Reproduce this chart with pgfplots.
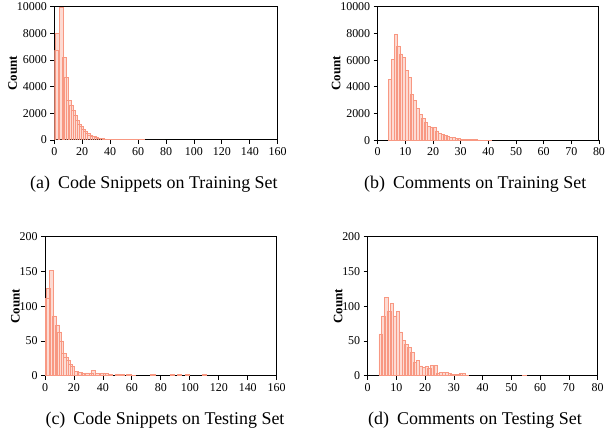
\documentclass[border=0pt]{standalone}
\usepackage{fontspec}
\setmainfont{Liberation Serif}
\usepackage{pgfplots}
\pgfplotsset{compat=1.18}
\definecolor{histc}{RGB}{248,152,130}

\pgfplotsset{
  hist/.style={
    scale only axis,
    anchor=south west,
    axis line style={line width=1bp},
    tick align=outside,
    tick pos=left,
    major tick length=4bp,
    every tick/.style={black, line width=0.8bp},
    ymin=0,
    scaled ticks=false,
    /pgf/number format/1000 sep={},
    /pgf/number format/assume math mode=true,
    tick label style={font=\fontsize{12}{14}\selectfont},
    ylabel={Count},
    ylabel shift=-7bp,
    ylabel style={font=\fontsize{13}{15}\selectfont\bfseries},
  },
  bars/.style={ybar, bar shift=0pt, draw=histc, fill=histc,
    fill opacity=0.35, line width=0.8bp},
}

\begin{document}
\begin{tikzpicture}

% (a) code snippets, training set
\begin{axis}[hist, at={(54.3bp,294bp)}, width=223.4bp, height=133.3bp,
  xmin=0, xmax=160, xtick={0,20,...,160},
  ymax=10000, ytick={0,2000,...,10000}]
\addplot[bars, bar width=3] coordinates {
  (1.5,6700) (2.3,7960) (5.1,9950) (7.5,6200) (8.9,4700) (10.5,3000)
  (12,2600) (13.5,2240) (15,1870) (16.5,1500) (18,1200) (19.5,990)
  (21,800) (22.5,620) (24,500) (25.5,380) (27,300) (28.5,240) (30,190)
  (31.5,150) (33,120) (34.5,100) (36,80) (37.5,65) (39,55) (40.5,45)
  (42,40) (43.5,35) (45,30) (46.5,27) (48,24) (49.5,21) (51,19)
  (52.5,17) (54,15) (55.5,13) (57,12) (58.5,11) (60,10) (61.5,9)
  (63,8) (64.5,7) (66,7) (67.5,6) (69,6) (70.5,5) (72,5) (73.5,4)
  (75,4) (76.5,3) (78,3)
};
\end{axis}

% (b) comments, training set
\begin{axis}[hist, at={(377.7bp,293.7bp)}, width=221.3bp, height=133.6bp,
  xmin=0, xmax=80, xtick={0,10,...,80},
  ymax=10000, ytick={0,2000,...,10000}]
\addplot[bars, bar width=1.15] coordinates {
  (4.5,4570) (5.5,6060) (6.5,7930) (7.5,7060) (8.5,6460) (9.5,6180)
  (10.5,5210) (11.5,4715) (12.5,3465) (13.5,3016) (14.5,2395)
  (15.5,1946) (16.5,1647) (17.5,1317) (18.5,1018) (19.5,1000)
  (20.5,970) (21.5,700) (22.5,520) (23.5,450) (24.5,380) (25.5,300)
  (26.5,230) (27.5,180) (28.5,140) (29.5,110) (30.5,90) (31.5,70)
  (32.5,60) (33.5,50) (34.5,40) (35.5,35) (36.5,25) (37.5,20)
  (38.5,15) (39.5,10) (40.5,6)
};
\end{axis}

% (c) code snippets, testing set
\begin{axis}[hist, at={(45bp,58.3bp)}, width=231.7bp, height=139bp,
  xmin=0, xmax=160, xtick={0,20,...,160},
  ymax=200, ytick={0,50,...,200}]
\addplot[bars, bar width=3] coordinates {
  (1.5,111) (2.3,126) (4.6,152) (6.4,86) (8.5,73) (10,63) (11.5,50)
  (13,32) (14.5,27) (16,22.5) (17.5,16) (19,13) (21.5,6) (24,5)
  (26.5,3) (29,4) (32,4) (33.5,7) (36,3) (40,4) (42,3) (45,2)
  (50,2.5) (53,2) (58,2) (61,1) (74.5,2) (88,2) (93,2) (98.5,2)
  (110,2)
};
\end{axis}

% (d) comments, testing set
\begin{axis}[hist, at={(367.7bp,58.3bp)}, width=230bp, height=139bp,
  xmin=0, xmax=80, xtick={0,10,...,80},
  ymax=200, ytick={0,50,...,200}]
\addplot[bars, bar width=1.15] coordinates {
  (4.5,60) (5.5,86) (6.5,113) (7.5,93) (8.5,104) (9.5,86) (10.5,93)
  (11.5,63) (12.5,51) (13.5,45) (14.5,40) (15.5,34) (16.5,19)
  (17.5,22) (18.5,14) (19.5,12) (20.5,13) (21.5,11) (22.5,15)
  (23.5,15) (24.5,3) (25.5,5) (26.5,5) (27.5,5) (28.5,3) (29.5,2)
  (30.5,2) (31.5,2) (32.5,3) (33.5,3) (34.5,1) (54.5,1)
};
\end{axis}

\begin{scope}[every node/.style={anchor=base, inner sep=0pt,
    font=\fontsize{18}{20}\selectfont}]
  \node at (153.9bp,245.7bp) {(a)\hspace{0.45em}Code Snippets on Training Set};
  \node at (475.2bp,245.7bp) {(b)\hspace{0.45em}Comments on Training Set};
  \node at (165bp,10bp) {(c)\hspace{0.45em}Code Snippets on Testing Set};
  \node at (475bp,10bp) {(d)\hspace{0.45em}Comments on Testing Set};
\end{scope}

\pgfresetboundingbox
\useasboundingbox (0,0) rectangle (605bp,434bp);
\end{tikzpicture}
\end{document}
